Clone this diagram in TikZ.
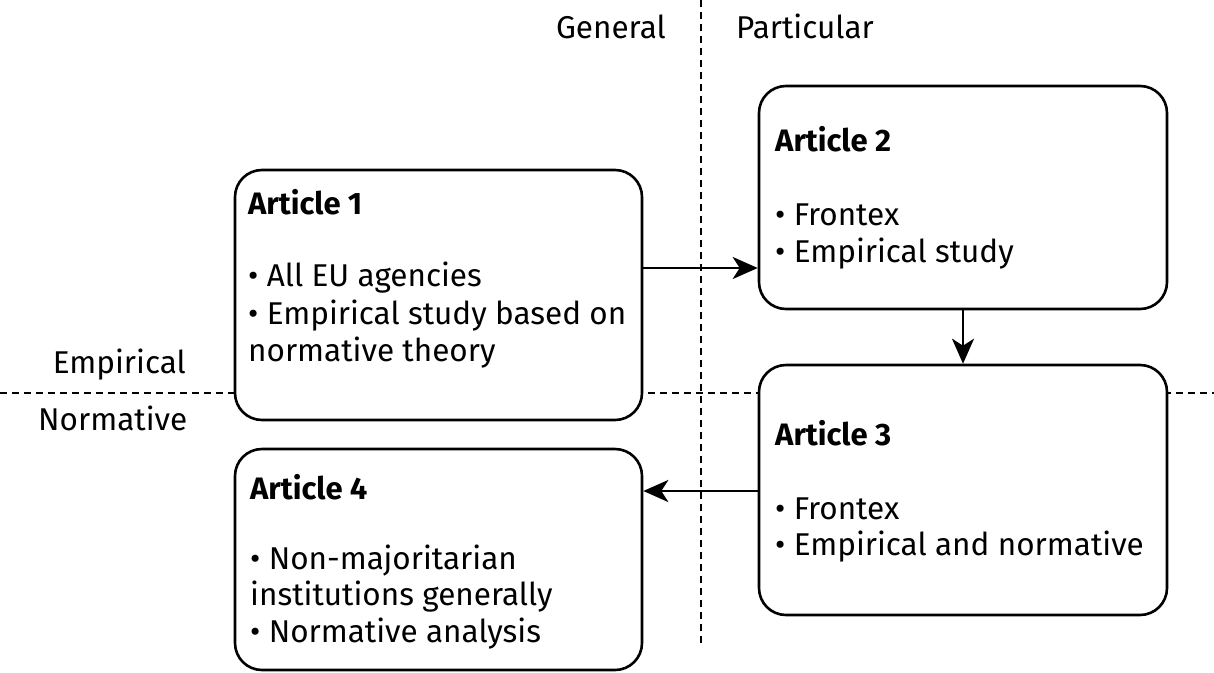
\documentclass[tikz,border=0pt]{standalone}
\usepackage{fontspec}
\setmainfont{Fira Sans}
\usetikzlibrary{arrows.meta}
\begin{document}
\begin{tikzpicture}[x=1pt,y=-1pt,
  artbox/.style={draw=black,line width=2.6pt,fill=white,rounded corners=27pt,inner sep=0pt},
  divider/.style={draw=black,line width=2.3pt,dash pattern=on 7pt off 5pt},
  conn/.style={draw=black,line width=2.6pt,-{Stealth[length=25pt,width=22pt,inset=7pt]}},
  ttl/.style={anchor=base west,inner sep=0pt,font=\fontsize{31}{37}\selectfont\bfseries},
  bdy/.style={anchor=base west,inner sep=0pt,font=\fontsize{31.5}{37}\selectfont},
  lbl/.style={inner sep=0pt,font=\fontsize{31.5}{37}\selectfont}]
\useasboundingbox (0,0) rectangle (1214,672);
% dividers
\coordinate (vt) at (701,0);
\coordinate (vb) at (701,645);
\coordinate (hl) at (0,393);
\coordinate (hr) at (1214,393);
\draw[divider] (vt) -- (vb);
\draw[divider] (hl) -- (hr);
% labels
\node[lbl,anchor=base east] (gen) at (666,38) {General};
\node[lbl,anchor=base west] (par) at (736,38) {Particular};
\node[lbl,anchor=base east] (emp) at (186,373) {Empirical};
\node[lbl,anchor=base west] (nor) at (38,430) {Normative};
% boxes
\node[artbox,minimum width=407pt,minimum height=250pt] (a1) at (438.5,295) {};
\node[artbox,minimum width=408pt,minimum height=223pt] (a2) at (963,197.5) {};
\node[artbox,minimum width=408pt,minimum height=250pt] (a3) at (963,490) {};
\node[artbox,minimum width=407pt,minimum height=221pt] (a4) at (438.5,559.5) {};
% texts
\node[ttl] (t1) at (248,214) {Article 1};
\node[bdy] (b1a) at (248,286) {• All EU agencies};
\node[bdy] (b1b) at (248,324) {• Empirical study based on};
\node[bdy] (b1c) at (248,361) {normative theory};
\node[ttl] (t2) at (775,151) {Article 2};
\node[bdy] (b2a) at (775,225) {• Frontex};
\node[bdy] (b2b) at (775,262) {• Empirical study};
\node[ttl] (t3) at (775,445) {Article 3};
\node[bdy] (b3a) at (775,519) {• Frontex};
\node[bdy] (b3b) at (775,555) {• Empirical and normative};
\node[ttl] (t4) at (250,499) {Article 4};
\node[bdy] (b4a) at (250,569) {• Non-majoritarian};
\node[bdy] (b4b) at (250,605) {institutions generally};
\node[bdy] (b4c) at (250,642) {• Normative analysis};
% connectors
\draw[conn] (a1.east |- 0,268) -- (a2.west |- 0,268);
\draw[conn] (a2.south) -- (a3.north);
\draw[conn] (a3.west |- 0,491) -- (a4.east |- 0,491);
\end{tikzpicture}
\end{document}
